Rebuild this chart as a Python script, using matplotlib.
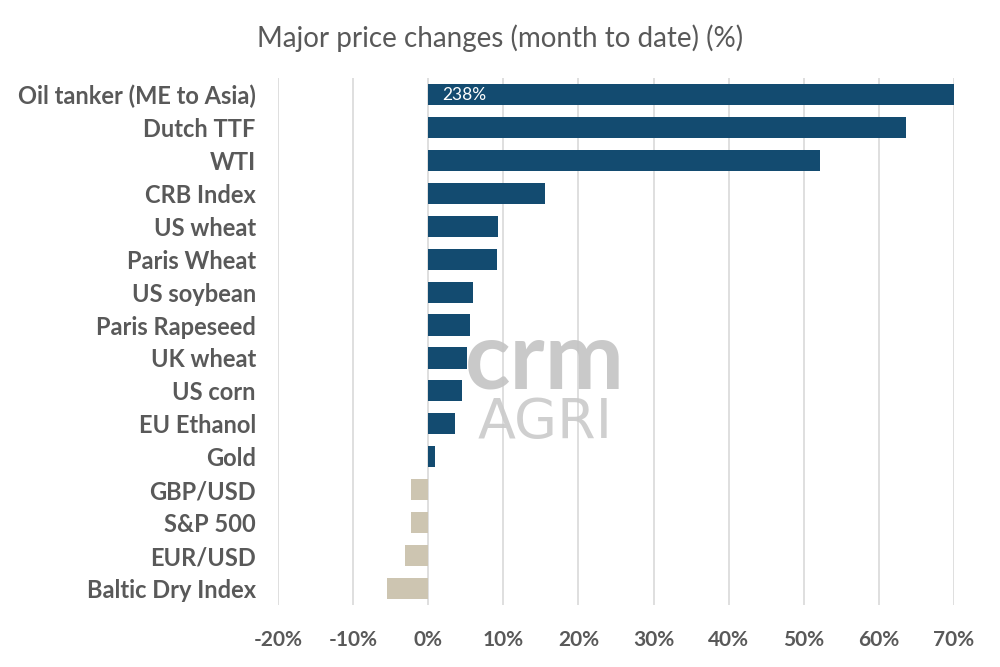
import matplotlib
matplotlib.use("Agg")
import matplotlib.pyplot as plt

categories = ['Oil tanker (ME to Asia)', 'Dutch TTF', 'WTI', 'CRB Index', 'US wheat',
              'Paris Wheat', 'US soybean', 'Paris Rapeseed', 'UK wheat', 'US corn',
              'EU Ethanol', 'Gold', 'GBP/USD', 'S&P 500', 'EUR/USD', 'Baltic Dry Index']
values = [238, 63.6, 52.1, 15.6, 9.3, 9.2, 6.0, 5.5, 5.2, 4.5, 3.5, 0.9, -2.3, -2.3, -3.1, -5.5]
ticks = [-20, -10, 0, 10, 20, 30, 40, 50, 60, 70]

blue = '#134B70'
beige = '#CDC5B1'
grey = '#595959'

plt.rcParams['font.family'] = ['Lato', 'DejaVu Sans']

fig = plt.figure(figsize=(10, 6.67), dpi=100)
ax = fig.add_axes([0.278, 0.093, 0.676, 0.79])

y = list(range(len(categories)))
colors = [blue if v >= 0 else beige for v in values]
ax.barh(y, values, height=0.64, color=colors, zorder=3)
ax.set_ylim(len(categories) - 0.5, -0.5)
ax.set_xlim(-20, 70)
ax.set_xticks(ticks)
ax.set_xticklabels([f'{t}%' for t in ticks], fontsize=15, fontweight='bold', color=grey)
ax.set_yticks(y)
ax.set_yticklabels(categories, fontsize=17, fontweight='bold', color=grey)
ax.tick_params(length=0, pad=18, axis='x')
ax.tick_params(length=0, pad=16, axis='y')
ax.xaxis.grid(True, color='#D9D9D9', linewidth=1.2, zorder=0)
for s in ax.spines.values():
    s.set_visible(False)

# clipped bar gets its real value written inside
ax.text(1.8, 0, f'{values[0]:.0f}%', color='white', fontsize=12.5, va='center', ha='left', zorder=4)

fig.text(0.5, 0.943, 'Major price changes (month to date) (%)', ha='center', va='center',
         fontsize=20, color=grey)

# watermark
fig.text(0.545, 0.417, 'crm', fontsize=68, fontweight='bold', color='#C4C4C4', alpha=0.9,
         ha='center', va='baseline', zorder=5)
fig.text(0.545, 0.344, 'AGRI', fontsize=40, family='DejaVu Sans', color='#CACACA', alpha=0.9,
         ha='center', va='baseline', zorder=5)

fig.savefig('out.png', dpi=100, facecolor='white')
